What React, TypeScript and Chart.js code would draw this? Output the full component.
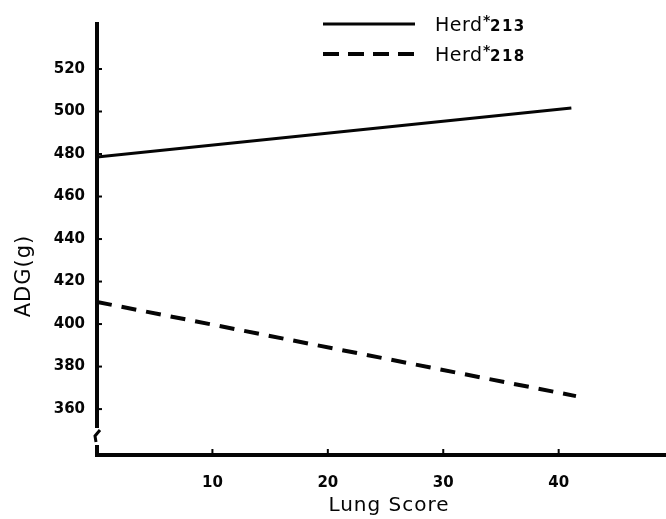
import React, { useEffect, useRef } from "react";
import { Chart, registerables } from "chart.js";

Chart.register(...registerables);

// ---- data ----
const herd213Label = "Herd";
const herd213Num = "213";
const herd218Num = "218";
const herd213X = [0, 41.1];
const herd213Y = [478.6, 501.6];
const herd218X = [0, 41.5];
const herd218Y = [410.4, 366.1];
const yTickValues = [360, 380, 400, 420, 440, 460, 480, 500, 520];
const xTickValues = [10, 20, 30, 40];
const xTitle = "Lung Score";
const yTitle = "ADG(g)";

const INK = "#050505";

const decorPlugin = {
  id: "decor",
  afterDraw(chart: any) {
    const ctx = chart.ctx as CanvasRenderingContext2D;
    const { left, right, top, bottom } = chart.chartArea;
    const xs = chart.scales.x;
    const ys = chart.scales.y;
    ctx.save();
    ctx.strokeStyle = INK;
    ctx.fillStyle = INK;
    ctx.lineCap = "butt";

    // y axis (with break)
    ctx.lineWidth = 4;
    ctx.beginPath();
    ctx.moveTo(left, top);
    ctx.lineTo(left, bottom - 27);
    ctx.stroke();
    // break mark
    ctx.lineWidth = 3;
    ctx.beginPath();
    ctx.moveTo(left + 3, bottom - 25);
    ctx.lineTo(left - 2, bottom - 19);
    ctx.lineTo(left - 1, bottom - 13);
    ctx.stroke();
    ctx.lineWidth = 4;
    ctx.beginPath();
    ctx.moveTo(left, bottom - 10);
    ctx.lineTo(left, bottom + 2);
    ctx.stroke();

    // x axis
    ctx.lineWidth = 4;
    ctx.beginPath();
    ctx.moveTo(left - 2, bottom);
    ctx.lineTo(right, bottom);
    ctx.stroke();

    // y tick marks (inside)
    ctx.lineWidth = 2;
    yTickValues.forEach((v) => {
      const py = ys.getPixelForValue(v);
      ctx.beginPath();
      ctx.moveTo(left, py);
      ctx.lineTo(left + 5, py);
      ctx.stroke();
    });
    // x tick marks (inside)
    xTickValues.forEach((v) => {
      const px = xs.getPixelForValue(v);
      ctx.beginPath();
      ctx.moveTo(px, bottom);
      ctx.lineTo(px, bottom - 6);
      ctx.stroke();
    });

    // axis titles
    (ctx as any).letterSpacing = "1px";
    ctx.font = "20px 'DejaVu Sans'";
    ctx.textAlign = "center";
    ctx.textBaseline = "alphabetic";
    ctx.fillText(xTitle, 389, 511);

    ctx.save();
    ctx.translate(30, 276);
    ctx.rotate(-Math.PI / 2);
    ctx.font = "21px 'DejaVu Sans'";
    ctx.fillText(yTitle, 0, 0);
    ctx.restore();

    // legend
    const rows = [
      { y: 24, dash: [] as number[], width: 3, num: herd213Num },
      { y: 54, dash: [16, 9], width: 4, num: herd218Num },
    ];
    rows.forEach((r) => {
      ctx.lineWidth = r.width;
      ctx.setLineDash(r.dash);
      ctx.beginPath();
      ctx.moveTo(323, r.y);
      ctx.lineTo(415, r.y);
      ctx.stroke();
      ctx.setLineDash([]);
      (ctx as any).letterSpacing = "0.5px";
      ctx.textAlign = "left";
      ctx.font = "19px 'DejaVu Sans'";
      ctx.fillText(herd213Label, 435, r.y + 7);
      (ctx as any).letterSpacing = "0px";
      ctx.font = "bold 14px 'DejaVu Sans'";
      ctx.fillText("*", 483, r.y + 1);
      (ctx as any).letterSpacing = "1.5px";
      ctx.font = "bold 15px 'DejaVu Sans'";
      ctx.fillText(r.num, 490, r.y + 7);
    });
    ctx.restore();
  },
};

export default function App() {
  const ref = useRef<HTMLCanvasElement | null>(null);
  useEffect(() => {
    if (!ref.current) return;
    const chart = new Chart(ref.current, {
      type: "line",
      data: {
        datasets: [
          {
            label: "Herd*213",
            data: herd213X.map((x, i) => ({ x, y: herd213Y[i] })),
            borderColor: INK,
            borderWidth: 3,
            pointRadius: 0,
            fill: false,
            tension: 0,
          },
          {
            label: "Herd*218",
            data: herd218X.map((x, i) => ({ x, y: herd218Y[i] })),
            borderColor: INK,
            borderWidth: 4,
            borderDash: [15, 10],
            pointRadius: 0,
            fill: false,
            tension: 0,
          },
        ],
      },
      options: {
        responsive: false,
        animation: false,
        layout: { padding: { top: 22, left: 0, right: 0, bottom: 0 } },
        plugins: {
          legend: { display: false },
          tooltip: { enabled: false },
          title: { display: false },
        },
        scales: {
          x: {
            type: "linear",
            min: 0,
            max: 49.3,
            grid: { display: false, drawTicks: false },
            border: { display: false },
            afterBuildTicks: (s: any) => {
              s.ticks = xTickValues.map((v) => ({ value: v }));
            },
            afterFit: (s: any) => {
              s.height = 64;
            },
            ticks: {
              color: INK,
              padding: 19,
              maxRotation: 0,
              font: { family: "'DejaVu Sans'", weight: "bold", size: 15 },
              callback: (v: any) => String(v),
            },
          },
          y: {
            type: "linear",
            min: 338.4,
            max: 542.1,
            grid: { display: false, drawTicks: false },
            border: { display: false },
            afterBuildTicks: (s: any) => {
              s.ticks = yTickValues.map((v) => ({ value: v }));
            },
            afterFit: (s: any) => {
              s.width = 97;
            },
            ticks: {
              color: INK,
              padding: 12,
              font: { family: "'DejaVu Sans'", weight: "bold", size: 15 },
              callback: (v: any) => String(v),
            },
          },
        },
      },
      plugins: [decorPlugin],
    });
    return () => chart.destroy();
  }, []);
  return (
    <div style={{ position: "fixed", left: 0, top: 0, width: 666, height: 519, background: "#fff" }}>
      <canvas ref={ref} width={666} height={519} />
    </div>
  );
}
